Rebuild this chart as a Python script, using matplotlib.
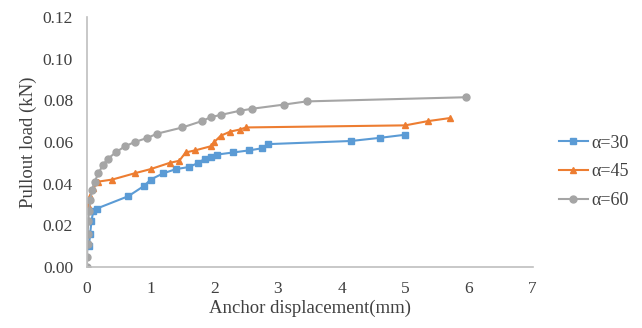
import matplotlib.pyplot as plt

# alpha = 30
x30 = [0.03, 0.05, 0.07, 0.10, 0.15, 0.65, 0.90, 1.00, 1.20, 1.40, 1.60, 1.75,
       1.85, 1.95, 2.05, 2.30, 2.55, 2.75, 2.85, 4.15, 4.60, 5.00]
y30 = [0.010, 0.016, 0.022, 0.027, 0.028, 0.034, 0.039, 0.042, 0.045, 0.047,
       0.048, 0.050, 0.052, 0.053, 0.054, 0.055, 0.056, 0.057, 0.059, 0.0605,
       0.062, 0.0635]

# alpha = 45
x45 = [0.02, 0.05, 0.10, 0.18, 0.40, 0.75, 1.00, 1.30, 1.45, 1.55, 1.70, 1.95,
       2.00, 2.10, 2.25, 2.40, 2.50, 5.00, 5.35, 5.70]
y45 = [0.030, 0.034, 0.038, 0.041, 0.042, 0.045, 0.047, 0.050, 0.051, 0.055,
       0.056, 0.058, 0.060, 0.063, 0.065, 0.066, 0.067, 0.068, 0.070, 0.0715]

# alpha = 60
x60 = [0.0, 0.0, 0.01, 0.01, 0.02, 0.03, 0.05, 0.08, 0.12, 0.18, 0.25, 0.33,
       0.45, 0.60, 0.75, 0.95, 1.10, 1.50, 1.80, 1.95, 2.10, 2.40, 2.60, 3.10,
       3.45, 5.95]
y60 = [0.0, 0.005, 0.011, 0.016, 0.022, 0.027, 0.032, 0.037, 0.041, 0.045,
       0.049, 0.052, 0.055, 0.058, 0.060, 0.062, 0.064, 0.067, 0.070, 0.072,
       0.073, 0.075, 0.076, 0.078, 0.0795, 0.0815]

plt.rcParams['font.family'] = ['Liberation Serif', 'DejaVu Serif']

fig = plt.figure(figsize=(6.42, 3.28), dpi=100)
ax = fig.add_axes([0.1355, 0.186, 0.694, 0.762])

ax.plot(x30, y30, '-s', color='#5B9BD5', ms=5, lw=1.5, label='α=30')
ax.plot(x45, y45, '-^', color='#ED7D31', ms=5, lw=1.5, label='α=45')
ax.plot(x60, y60, '-o', color='#A5A5A5', ms=5, lw=1.5, label='α=60')

ax.set_xlim(0, 7)
ax.set_ylim(0, 0.12)
ax.set_xticks(range(8))
ax.set_yticks([0, 0.02, 0.04, 0.06, 0.08, 0.10, 0.12])
ax.set_yticklabels(['0.00', '0.02', '0.04', '0.06', '0.08', '0.10', '0.12'])
ax.tick_params(length=0, labelsize=12.5, colors='#404040', pad=10)

for s in ['top', 'right']:
    ax.spines[s].set_visible(False)
for s in ['left', 'bottom']:
    ax.spines[s].set_color('#bfbfbf')
    ax.spines[s].set_linewidth(1.2)

ax.set_xlabel('Anchor displacement(mm)', fontsize=13.5, color='#404040', labelpad=2)
ax.set_ylabel('Pullout load (kN)', fontsize=13.5, color='#404040', labelpad=4)

fig.legend(loc='center left', bbox_to_anchor=(559 / 642, 1 - 172 / 328),
           frameon=False, fontsize=13, handlelength=1.6, handletextpad=0.2,
           labelspacing=0.65, borderpad=0, borderaxespad=0,
           labelcolor='#404040')

fig.savefig('out.png', dpi=100)
